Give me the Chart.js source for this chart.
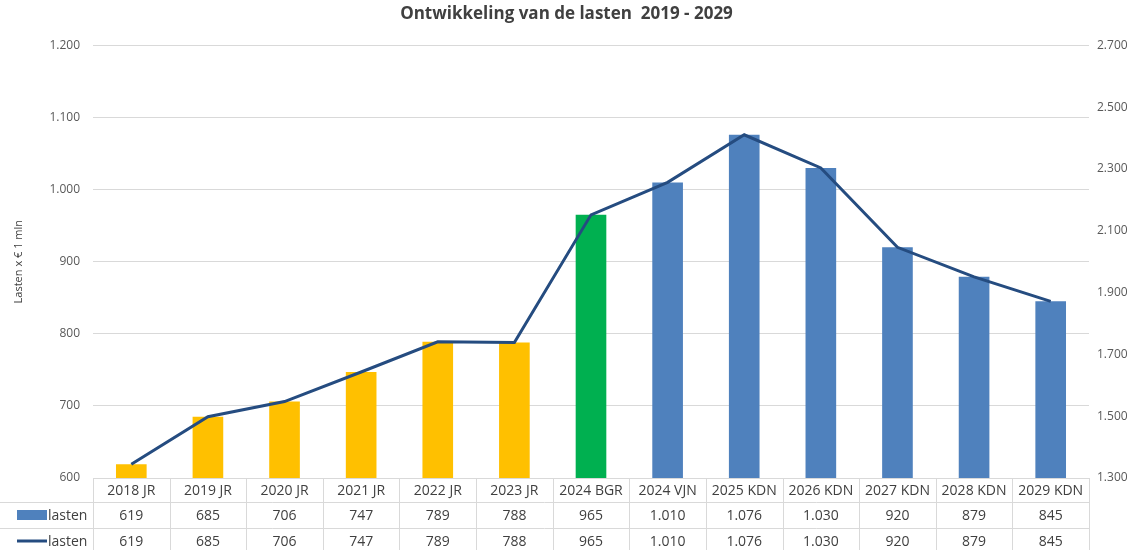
<!DOCTYPE html>
<html>
<head>
<meta charset="utf-8">
<script src="https://cdn.jsdelivr.net/npm/chart.js@4"></script>
<style>
  html, body { margin: 0; padding: 0; background: #fff; }
  #wrap { width: 1133px; height: 550px; }
</style>
</head>
<body>
<div id="wrap"><canvas id="lastenChart" width="1133" height="550"></canvas></div>
<script>
// gegevens
const categories = ["2018 JR", "2019 JR", "2020 JR", "2021 JR", "2022 JR", "2023 JR", "2024 BGR",
  "2024 VJN", "2025 KDN", "2026 KDN", "2027 KDN", "2028 KDN", "2029 KDN"];
const lastenBars = [619, 685, 706, 747, 789, 788, 965, 1010, 1076, 1030, 920, 879, 845];
const lastenLine = [619, 685, 706, 747, 789, 788, 965, 1010, 1076, 1030, 920, 879, 845];
const leftTicks = [600, 700, 800, 900, 1000, 1100, 1200];
const rightTicks = [1300, 1500, 1700, 1900, 2100, 2300, 2500, 2700];

const BLUE = "#4F81BD";
const DARKBLUE = "#254C80";
const TEXT = "#404040";
const FONT = "'Open Sans', 'DejaVu Sans', sans-serif";

// kleur per soort begroting
function barColor(label) {
  if (label.endsWith("JR")) return "#FFC000";
  if (label.endsWith("BGR")) return "#00B050";
  return BLUE;
}

// punt als duizendtal scheiding
function nlNum(v) {
  return String(v).replace(/\B(?=(\d{3})+(?!\d))/g, ".");
}

// tabel onder de grafiek
const dataTable = {
  id: "dataTable",
  afterDraw(chart) {
    const ctx = chart.ctx;
    const area = chart.chartArea;
    const x = chart.scales.x;
    const n = categories.length;
    const colW = area.width / n;
    const rows = [area.bottom, area.bottom + 24, area.bottom + 50, area.bottom + 76];

    ctx.save();
    ctx.strokeStyle = "#d9d9d9";
    ctx.lineWidth = 1;
    ctx.beginPath();
    ctx.moveTo(area.left, rows[0] + 0.5);
    ctx.lineTo(area.right, rows[0] + 0.5);
    for (let r = 1; r < rows.length; r++) {
      ctx.moveTo(0, rows[r] + 0.5);
      ctx.lineTo(area.right, rows[r] + 0.5);
    }
    for (let i = 0; i <= n; i++) {
      const bx = Math.round(area.left + i * colW) + 0.5;
      ctx.moveTo(bx, rows[0]);
      ctx.lineTo(bx, rows[3]);
    }
    ctx.stroke();

    ctx.fillStyle = TEXT;
    ctx.font = "14px " + FONT;
    ctx.textAlign = "center";
    ctx.textBaseline = "middle";
    for (let i = 0; i < n; i++) {
      const cx = x.getPixelForValue(i);
      ctx.fillText(categories[i], cx, (rows[0] + rows[1]) / 2 + 1);
      ctx.fillText(nlNum(lastenBars[i]), cx, (rows[1] + rows[2]) / 2 + 1);
      ctx.fillText(nlNum(lastenLine[i]), cx, (rows[2] + rows[3]) / 2 + 1);
    }

    // legenda in de tabel
    const y1 = (rows[1] + rows[2]) / 2;
    const y2 = (rows[2] + rows[3]) / 2;
    ctx.fillStyle = BLUE;
    ctx.fillRect(17, y1 - 5, 30, 10);
    ctx.strokeStyle = DARKBLUE;
    ctx.lineWidth = 3;
    ctx.beginPath();
    ctx.moveTo(17, y2);
    ctx.lineTo(47, y2);
    ctx.stroke();
    ctx.fillStyle = TEXT;
    ctx.textAlign = "left";
    ctx.fillText("lasten", 48, y1 + 1);
    ctx.fillText("lasten", 48, y2 + 1);
    ctx.restore();
  },
};

const ctx = document.getElementById("lastenChart").getContext("2d");
new Chart(ctx, {
  type: "bar",
  data: {
    labels: categories,
    datasets: [
      {
        type: "line",
        label: "lasten",
        data: lastenLine,
        yAxisID: "y",
        borderColor: DARKBLUE,
        borderWidth: 3,
        pointRadius: 0,
        tension: 0,
        order: 0,
      },
      {
        type: "bar",
        label: "lasten",
        data: lastenBars,
        yAxisID: "y",
        backgroundColor: categories.map(barColor),
        categoryPercentage: 1,
        barPercentage: 0.4,
        order: 1,
      },
    ],
  },
  options: {
    responsive: false,
    animation: false,
    layout: { padding: { left: 0, right: 0, top: 0, bottom: 72 } },
    scales: {
      x: {
        display: false,
        offset: true,
      },
      y: {
        position: "left",
        min: 600,
        max: 1200,
        afterFit(scale) { scale.width = 93; },
        afterBuildTicks(scale) { scale.ticks = leftTicks.map((v) => ({ value: v })); },
        grid: { color: "#d9d9d9", drawTicks: false },
        border: { display: false },
        ticks: {
          padding: 13,
          color: "#595959",
          font: { family: FONT, size: 12 },
          callback: (v) => nlNum(v),
        },
        title: {
          display: true,
          text: "Lasten x € 1 mln",
          color: "#404040",
          font: { family: FONT, size: 11 },
          padding: { top: 12, bottom: 0 },
        },
      },
      y2: {
        position: "right",
        min: 1300,
        max: 2700,
        afterFit(scale) { scale.width = 44; },
        afterBuildTicks(scale) { scale.ticks = rightTicks.map((v) => ({ value: v })); },
        grid: { drawOnChartArea: false, drawTicks: false },
        border: { display: false },
        ticks: {
          padding: 8,
          color: "#595959",
          font: { family: FONT, size: 12 },
          callback: (v) => nlNum(v),
        },
      },
    },
    plugins: {
      legend: { display: false },
      tooltip: { enabled: false },
      title: {
        display: true,
        text: "Ontwikkeling van de lasten  2019 - 2029",
        color: TEXT,
        font: { family: FONT, size: 17, weight: "bold" },
        padding: { top: 4, bottom: 21 },
      },
    },
  },
  plugins: [dataTable],
});
</script>
</body>
</html>
